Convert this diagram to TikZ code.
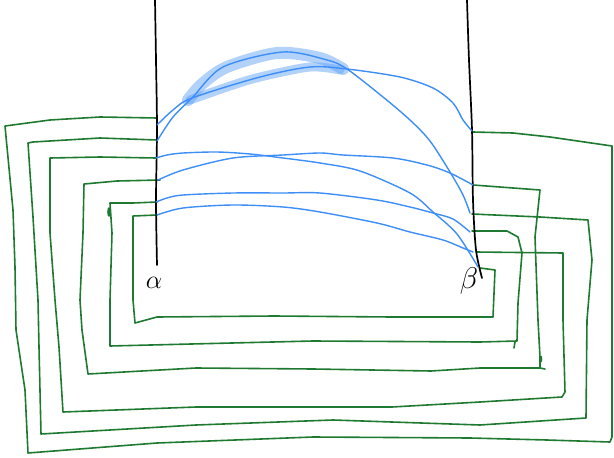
\RequirePackage{fix-cm}
\documentclass[tikz,border=0pt]{standalone}
\usepackage{tikz}
\definecolor{greenc}{RGB}{30,122,48}
\definecolor{bluec}{RGB}{61,142,247}
\definecolor{hlc}{RGB}{85,155,245}
\tikzset{
  greenline/.style={draw=greenc, line width=1.6pt, line join=round, line cap=round},
  blueline/.style={draw=bluec, line width=1.4pt, line cap=round},
  blackline/.style={draw=black, line width=1.7pt, line cap=round},
  highlight/.style={draw=hlc, opacity=0.45, line cap=round, line join=round},
  lbl/.style={inner sep=0pt}
}
\begin{document}
\begin{tikzpicture}[x=1pt,y=-1pt]
\useasboundingbox (0,0) rectangle (614,458);
% attachment points on the left stroke
\coordinate (L1) at (157,118);
\coordinate (L2) at (157,140);
\coordinate (L3) at (156,158);
\coordinate (L4) at (160,180);
\coordinate (L5) at (157,202);
\coordinate (L6) at (157,215);
% attachment points on the right stroke
\coordinate (R1) at (473,132);
\coordinate (R2) at (472,214);
\coordinate (R3) at (476,252);
\coordinate (R4) at (473,185);
\coordinate (R5) at (472,231);
\coordinate (R6) at (480,268);
% blue end points
\coordinate (a1) at (157,125);
\coordinate (a2) at (157,141);
\coordinate (a3) at (156,158);
\coordinate (a4) at (158,180);
\coordinate (a5) at (156,202);
\coordinate (a6) at (157,215);
\coordinate (b1) at (472,131);
\coordinate (b2) at (470,213);
\coordinate (b3) at (478,267);
\coordinate (b4) at (473,185);
\coordinate (b5) at (470,232);
\coordinate (b6) at (473,252);

% green nested loops
\draw[greenline] (L1) -- (100,117) -- (50,120) -- (5,126) -- (13,210) -- (15,267) -- (16,330) -- (25,390) -- (28,453) -- (157,443) -- (313,437) -- (470,438) -- (547,440) -- (610,442) -- (612,437) -- (612,300) -- (612,200) -- (612,146) -- (550,137) -- (513,133) -- (R1);
\draw[greenline] (L2) -- (100,138) -- (33,142) -- (28,143) -- (33,217) -- (38,300) -- (39,347) -- (41,434) -- (196,425) -- (333,420) -- (480,425) -- (586,418) -- (587,320) -- (592,260) -- (588,220) -- (540,217) -- (R2);
\draw[greenline] (L3) -- (100,157) -- (50,158) -- (50,233) -- (55,300) -- (59,347) -- (63,412) -- (196,407) -- (392,407) -- (480,402) -- (562,397) -- (565,392) -- (563,320) -- (563,253) -- (R3);
\draw[greenline] (L4) -- (117,181) -- (84,184) -- (83,233) -- (80,300) -- (82,330) -- (88,374) -- (196,368) -- (313,369) -- (431,371) -- (480,368) -- (540,368) -- (540,357) -- (538,320) -- (535,237) -- (540,190) -- (R4);
\draw[greenline] (540,368) -- (545,369);
\fill[greenc] (541,359) ellipse (1.3 and 3.5);
\draw[greenline] (L5) -- (133,203) -- (110,203) -- (112,233) -- (110,300) -- (110,346) -- (313,341) -- (480,342) -- (517,341) -- (518,303) -- (522,253) -- (518,237) -- (507,231) -- (R5);
\draw[greenline] (515,342) -- (514,348);
\fill[greenc] (109,212) ellipse (1.8 and 5);
\draw[greenline] (L6) -- (133,216) -- (133,300) -- (135,323) -- (157,317) -- (274,316) -- (392,317) -- (493,317) -- (495,270) -- (R6);

% black strokes
\draw[blackline] plot[smooth] coordinates {(155,0) (156,60) (157,130) (156,200) (157,265)};
\draw[blackline] plot[smooth] coordinates {(467,0) (469,60) (472,130) (473,200) (476,250) (482,278)};

% highlight bands
\draw[highlight, line width=12pt] plot[smooth] coordinates {(188,100) (202,84) (227,67) (277,53) (320,58) (343,69)};
\draw[highlight, line width=9pt] plot[smooth] coordinates {(190,100) (230,86) (260,77) (310,67) (340,70)};

% blue curves
\draw[blueline] plot[smooth] coordinates {(a1) (173,110) (192,98) (260,77) (310,67) (347,69) (400,77) (433,88) (453,103) (463,120) (b1)};
\draw[blueline] plot[smooth] coordinates {(a2) (173,117) (192,98) (223,67) (283,52) (327,60) (347,69) (383,97) (410,120) (430,141) (450,172) (463,195) (b2)};
\draw[blueline] plot[smooth] coordinates {(a3) (167,155) (183,153) (217,152) (250,154) (283,158) (320,163) (360,171) (410,193) (433,212) (457,234) (b3)};
\draw[blueline] plot[smooth] coordinates {(a4) (183,170) (233,158) (283,155) (320,153) (343,155) (393,158) (427,165) (450,173) (b4)};
\draw[blueline] plot[smooth] coordinates {(a5) (167,198) (183,195) (233,193) (283,193) (320,193) (377,200) (410,207) (433,213) (453,219) (b5)};
\draw[blueline] plot[smooth] coordinates {(a6) (183,208) (233,205) (283,207) (320,212) (377,223) (410,232) (443,240) (463,248) (b6)};

% labels
\node[lbl, font=\fontsize{26}{26}\selectfont] (alpha) at (154,283) {$\alpha$};
\node[lbl, font=\fontsize{30}{30}\selectfont] (beta) at (469,281) {$\beta$};
\end{tikzpicture}
\end{document}
